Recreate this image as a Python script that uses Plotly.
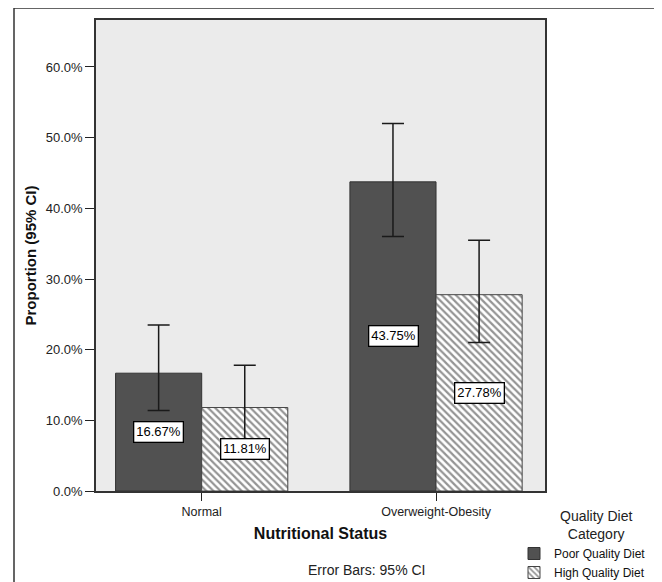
import plotly.graph_objects as go

categories = ["Normal", "Overweight-Obesity"]
series_names = ["Poor Quality Diet", "High Quality Diet"]
poor_values = [16.67, 43.75]
high_values = [11.81, 27.78]
poor_ci_low = [11.4, 36.0]
poor_ci_high = [23.5, 52.0]
high_ci_low = [7.3, 21.0]
high_ci_high = [17.8, 35.5]
y_ticks = [0, 10, 20, 30, 40, 50, 60]

# page has an 8px body margin: work in screen pixels and shift
OFF = 8
W, H = 662 - OFF, 582 - OFF
L, R, T, B = 96 - OFF, 545 - OFF, 20 - OFF, 491 - OFF
pw, ph = R - L, B - T


def px(x):
    return (x - OFF - L) / pw


def py(y):
    return (B - (y - OFF)) / ph


x_idx = list(range(len(categories)))

fig = go.Figure()
fig.add_trace(go.Bar(
    name=series_names[0], x=x_idx, y=poor_values,
    marker=dict(color="#515151", line=dict(color="#333333", width=1)),
    error_y=dict(type="data", symmetric=False,
                 array=[h - v for h, v in zip(poor_ci_high, poor_values)],
                 arrayminus=[v - l for l, v in zip(poor_ci_low, poor_values)],
                 color="#1a1a1a", thickness=1.5, width=11),
))
fig.add_trace(go.Bar(
    name=series_names[1], x=x_idx, y=high_values,
    marker=dict(color="white", line=dict(color="#444444", width=1),
                pattern=dict(shape="\\", fgcolor="#2a2a2a", bgcolor="white",
                             size=5, solidity=0.45)),
    error_y=dict(type="data", symmetric=False,
                 array=[h - v for h, v in zip(high_ci_high, high_values)],
                 arrayminus=[v - l for l, v in zip(high_ci_low, high_values)],
                 color="#1a1a1a", thickness=1.5, width=11),
))

annotations = []
offset = 0.1835
for i in x_idx:
    for vals, sgn in ((poor_values, -1), (high_values, 1)):
        annotations.append(dict(
            x=i + sgn * offset, y=vals[i] / 2, xref="x", yref="y",
            xanchor="center", yanchor="middle",
            text=f"{vals[i]:.2f}%", showarrow=False,
            font=dict(family="Liberation Sans, Arial", size=13, color="black"),
            bgcolor="white", bordercolor="black", borderwidth=1.3, borderpad=2,
        ))

annotations.append(dict(
    x=px(366), y=py(570), xref="paper", yref="paper",
    xanchor="center", yanchor="middle",
    text="Error Bars: 95% CI", showarrow=False,
    font=dict(family="Liberation Sans, Arial", size=14, color="#222222"),
))
annotations.append(dict(
    x=px(596), y=py(525), xref="paper", yref="paper",
    xanchor="center", yanchor="middle",
    text="Quality Diet<br>Category", showarrow=False, align="center",
    font=dict(family="Liberation Sans, Arial", size=14, color="#222222"),
))

shapes = [dict(
    type="rect", xref="paper", yref="paper",
    x0=px(14), x1=px(656.5), y0=py(640), y1=py(8),
    line=dict(color="#333333", width=1.5), fillcolor="rgba(0,0,0,0)",
    layer="below",
)]

fig.update_layout(
    width=W, height=H,
    margin=dict(l=L, r=W - R, t=T, b=H - B, autoexpand=False),
    paper_bgcolor="white", plot_bgcolor="#ebebeb",
    barmode="group", bargap=0.265, bargroupgap=0,
    font=dict(family="Liberation Sans, Arial", color="#222222"),
    showlegend=True,
    legend=dict(x=px(514), y=py(539), xanchor="left", yanchor="top",
                bgcolor="rgba(0,0,0,0)", font=dict(size=12, color="#111111"),
                tracegroupgap=0, itemwidth=30),
    annotations=annotations, shapes=shapes,
)
fig.update_xaxes(
    range=[-0.451, 1.465], tickmode="array", tickvals=x_idx, ticktext=categories,
    ticks="outside", ticklen=8, tickcolor="#222222", tickwidth=1.3,
    showline=True, linecolor="#333333", linewidth=1.5, mirror=True,
    showgrid=False, zeroline=False,
    tickfont=dict(size=12.5, color="#222222"),
    title=dict(text="<b>Nutritional Status</b>", font=dict(size=16, color="#111111"),
               standoff=10),
)
fig.update_yaxes(
    range=[0, 66.65], tickmode="array", tickvals=y_ticks,
    ticktext=[f"{v:.1f}%" for v in y_ticks],
    ticks="outside", ticklen=9, tickcolor="#222222", tickwidth=1.3,
    showline=True, linecolor="#333333", linewidth=1.5, mirror=True,
    showgrid=False, zeroline=False,
    tickfont=dict(size=13, color="#222222"),
    title=dict(text="<b>Proportion (95% CI)</b>", font=dict(size=15, color="#111111"),
               standoff=6),
)

fig.write_html("out.html")
